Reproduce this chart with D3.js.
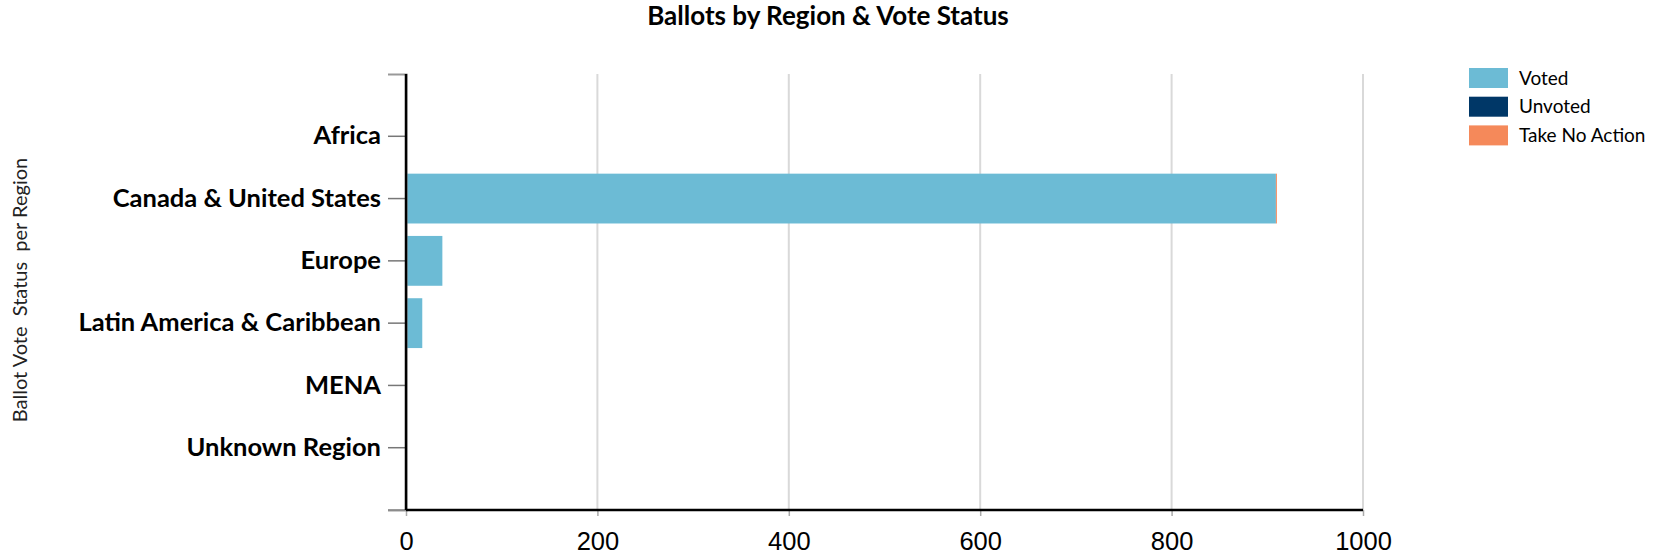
<!DOCTYPE html>
<html>
<head>
<meta charset="utf-8">
<script src="https://cdn.jsdelivr.net/npm/d3@7"></script>
<style>
  body { margin: 0; background: #fff; }
  svg { display: block; }
</style>
</head>
<body>
<svg id="chart" width="1655" height="556"></svg>
<script>
// data
const regions = ['Africa', 'Canada & United States', 'Europe', 'Latin America & Caribbean', 'MENA', 'Unknown Region'];
const voted = [0, 909, 38, 17, 0, 0];
const unvoted = [0, 0, 0, 0, 0, 0];
const takeNoAction = [0, 1, 0, 0, 0, 0];
const statusKeys = ['Voted', 'Unvoted', 'Take No Action'];
const statusColours = ['#6cbbd5', '#003767', '#f5895a'];
const xTicks = [0, 200, 400, 600, 800, 1000];

const svg = d3.select('#chart');
const margin = {top: 74, left: 406, right: 292, bottom: 46};
const width = 1655 - margin.left - margin.right;   // 957
const height = 556 - margin.top - margin.bottom;   // 436

// build rows for the stack
const rows = regions.map((r, i) => ({
  region: r,
  'Voted': voted[i],
  'Unvoted': unvoted[i],
  'Take No Action': takeNoAction[i]
}));

const x = d3.scaleLinear().domain([0, 1000]).range([margin.left, margin.left + width]);
const y = d3.scaleBand().domain(regions)
  .range([margin.top, margin.top + height])
  .paddingInner(0.2).paddingOuter(0.6);
const colour = d3.scaleOrdinal().domain(statusKeys).range(statusColours);

// title
svg.append('text')
  .attr('x', 828).attr('y', 25)
  .attr('text-anchor', 'middle')
  .style('font-family', 'Lato, sans-serif')
  .style('font-weight', 'bold')
  .style('font-size', '26px')
  .text('Ballots by Region & Vote Status');

// grid lines
svg.append('g').attr('class', 'grid')
  .selectAll('line')
  .data(xTicks.filter(d => d > 0))
  .enter().append('line')
    .attr('x1', d => x(d)).attr('x2', d => x(d))
    .attr('y1', margin.top).attr('y2', margin.top + height)
    .attr('stroke', '#d9d9d9')
    .attr('stroke-width', 2);

// stacked bars
const series = d3.stack().keys(statusKeys)(rows);
svg.append('g').attr('class', 'bars')
  .selectAll('g')
  .data(series)
  .enter().append('g')
    .attr('fill', d => colour(d.key))
  .selectAll('rect')
  .data(d => d)
  .enter().append('rect')
    .attr('x', d => x(d[0]))
    .attr('y', d => y(d.data.region))
    .attr('width', d => x(d[1]) - x(d[0]))
    .attr('height', y.bandwidth());

// y axis
const yAxis = svg.append('g')
  .attr('transform', `translate(${margin.left},0)`)
  .call(d3.axisLeft(y).tickSize(18).tickSizeOuter(18).tickPadding(7));
yAxis.select('.domain').attr('stroke', '#999').attr('stroke-width', 2);
yAxis.selectAll('.tick line').attr('stroke', '#777').attr('stroke-width', 1.5);
yAxis.selectAll('.tick text')
  .style('font-family', 'Lato, sans-serif')
  .style('font-weight', 'bold')
  .style('font-size', '25.5px')
  .attr('fill', '#000');

// x axis
const xAxis = svg.append('g')
  .attr('transform', `translate(0,${margin.top + height})`)
  .call(d3.axisBottom(x).tickValues(xTicks).tickSize(6).tickSizeOuter(0).tickPadding(16).tickFormat(d3.format('d')));
xAxis.select('.domain').remove();
xAxis.selectAll('.tick line').attr('stroke', '#aaa').attr('stroke-width', 1.5);
xAxis.selectAll('.tick text')
  .style('font-family', '"Liberation Sans", Arial, sans-serif')
  .style('font-size', '25.5px')
  .attr('fill', '#000');

// black axis lines on top
svg.append('line')
  .attr('x1', margin.left - 18).attr('x2', margin.left)
  .attr('y1', margin.top + height).attr('y2', margin.top + height)
  .attr('stroke', '#888').attr('stroke-width', 1.5);
svg.append('line')
  .attr('x1', margin.left).attr('x2', margin.left)
  .attr('y1', margin.top).attr('y2', margin.top + height)
  .attr('stroke', '#000').attr('stroke-width', 2.5);
svg.append('line')
  .attr('x1', margin.left).attr('x2', margin.left + width)
  .attr('y1', margin.top + height).attr('y2', margin.top + height)
  .attr('stroke', '#000').attr('stroke-width', 2.5);

// y axis title
svg.append('text')
  .attr('transform', 'translate(27,290) rotate(-90)')
  .attr('text-anchor', 'middle')
  .style('font-family', 'Lato, sans-serif')
  .style('font-size', '20px')
  .style('white-space', 'pre')
  .attr('fill', '#222')
  .text('Ballot Vote  Status  per Region');

// legend
const legend = svg.append('g').attr('class', 'legend')
  .selectAll('g')
  .data(statusKeys)
  .enter().append('g')
    .attr('transform', (d, i) => `translate(1469,${68 + i * 28.7})`);
legend.append('rect')
  .attr('width', 39).attr('height', 20)
  .attr('fill', d => colour(d));
legend.append('text')
  .attr('x', 50).attr('y', 10).attr('dy', '0.35em')
  .style('font-family', 'Lato, sans-serif')
  .style('font-size', '19px')
  .attr('fill', '#000')
  .text(d => d);
</script>
</body>
</html>
